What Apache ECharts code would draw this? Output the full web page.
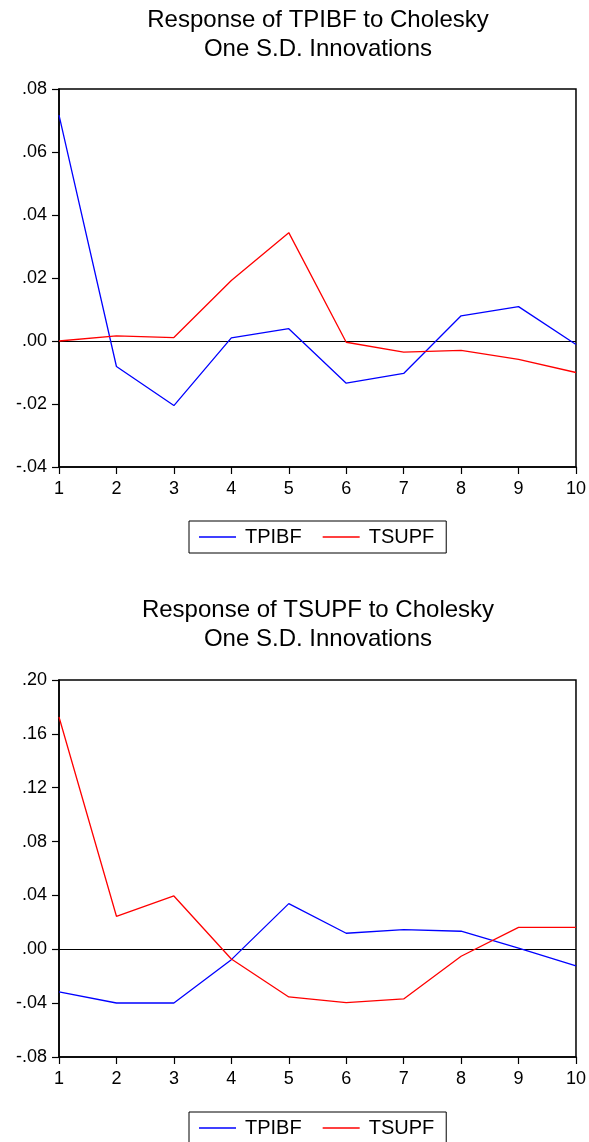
<!DOCTYPE html>
<html>
<head>
<meta charset="utf-8">
<script src="https://cdn.jsdelivr.net/npm/echarts@6/dist/echarts.min.js"></script>
<style>
html,body{margin:0;padding:0;background:#fff;}
#chart{width:589px;height:1142px;}
</style>
</head>
<body>
<div id="chart"></div>
<script>
const periods = ['1','2','3','4','5','6','7','8','9','10'];
const seriesNames = ['TPIBF', 'TSUPF'];
const titles = ['Response of TPIBF to Cholesky\nOne S.D. Innovations',
                'Response of TSUPF to Cholesky\nOne S.D. Innovations'];
// Panel 1: Response of TPIBF
const tpibf1 = [0.0717, -0.0081, -0.0205, 0.0010, 0.0039, -0.0134, -0.0103, 0.0080, 0.0109, -0.0011];
const tsupf1 = [0.0000, 0.0016, 0.0011, 0.0192, 0.0344, -0.0004, -0.0035, -0.0030, -0.0058, -0.0100];
// Panel 2: Response of TSUPF
const tpibf2 = [-0.0317, -0.0399, -0.0399, -0.0077, 0.0339, 0.0119, 0.0146, 0.0134, 0.0008, -0.0124];
const tsupf2 = [0.1725, 0.0245, 0.0396, -0.0072, -0.0354, -0.0396, -0.0369, -0.0052, 0.0163, 0.0163];
// axis ranges
const yRange1 = {min: -0.04, max: 0.08, interval: 0.02};
const yRange2 = {min: -0.08, max: 0.20, interval: 0.04};

const FONT = 'Liberation Sans, Arial, sans-serif';
const fmt = v => {
  if (Math.abs(v) < 1e-9) return '.00';
  return v.toFixed(2).replace('0.', '.');
};

const chart = echarts.init(document.getElementById('chart'), null, {renderer: 'canvas'});

const grids = [
  {left: 59, top: 89, width: 518, height: 378},
  {left: 59, top: 680, width: 518, height: 377}
];
const ranges = [yRange1, yRange2];
const data = [[tpibf1, tsupf1], [tpibf2, tsupf2]];
const titleTops = [5.5, 595.5];
const legendTops = [521, 1112];
const colors = ['#0000FF', '#FF0000'];

const option = {
  backgroundColor: '#fff',
  animation: false,
  title: titles.map((t, i) => ({
    text: t,
    left: 318,
    top: titleTops[i],
    textAlign: 'center',
    padding: 0,
    textStyle: {fontFamily: FONT, fontSize: 24, fontWeight: 'normal', color: '#000', lineHeight: 29}
  })),
  legend: legendTops.map(t => ({
    data: seriesNames.map(n => ({name: n, icon: 'rect'})),
    left: 189,
    top: t,
    orient: 'horizontal',
    borderColor: '#000',
    borderWidth: 1,
    padding: [6, 12, 6, 10],
    itemWidth: 37,
    itemHeight: 1.5,
    itemGap: 21,
    selectedMode: false,
    textStyle: {fontFamily: FONT, fontSize: 20, color: '#000', padding: [0, 0, 0, 4]}
  })),
  grid: grids.map(g => Object.assign({show: true, borderColor: '#000', borderWidth: 1.5, backgroundColor: '#fff'}, g)),
  xAxis: grids.map((g, i) => ({
    type: 'category',
    gridIndex: i,
    data: periods,
    boundaryGap: false,
    axisLine: {show: true, onZero: false, lineStyle: {color: '#000', width: 1.5}},
    axisTick: {show: true, inside: false, length: 7, alignWithLabel: true, lineStyle: {color: '#000', width: 1.2}},
    axisLabel: {show: true, margin: 13, fontFamily: FONT, fontSize: 18, color: '#000', interval: 0},
    splitLine: {show: false}
  })),
  yAxis: ranges.map((r, i) => ({
    type: 'value',
    gridIndex: i,
    min: r.min,
    max: r.max,
    interval: r.interval,
    axisLine: {show: true, onZero: false, lineStyle: {color: '#000', width: 1.5}},
    axisTick: {show: true, inside: false, length: 7, lineStyle: {color: '#000', width: 1.2}},
    axisLabel: {show: true, margin: 12, fontFamily: FONT, fontSize: 18, color: '#000', formatter: fmt},
    splitLine: {show: false}
  })),
  series: []
};

data.forEach((pair, gi) => {
  pair.forEach((vals, si) => {
    const s = {
      name: seriesNames[si],
      type: 'line',
      xAxisIndex: gi,
      yAxisIndex: gi,
      data: vals,
      symbol: 'none',
      showSymbol: false,
      smooth: false,
      lineStyle: {color: colors[si], width: 1.3},
      itemStyle: {color: colors[si]},
      z: 3 + si
    };
    if (si === 0) {
      s.markLine = {
        silent: true,
        symbol: ['none', 'none'],
        label: {show: false},
        lineStyle: {color: '#000', width: 1.2, type: 'solid'},
        data: [{yAxis: 0}],
        z: 2
      };
    }
    option.series.push(s);
  });
});

chart.setOption(option);
</script>
</body>
</html>
